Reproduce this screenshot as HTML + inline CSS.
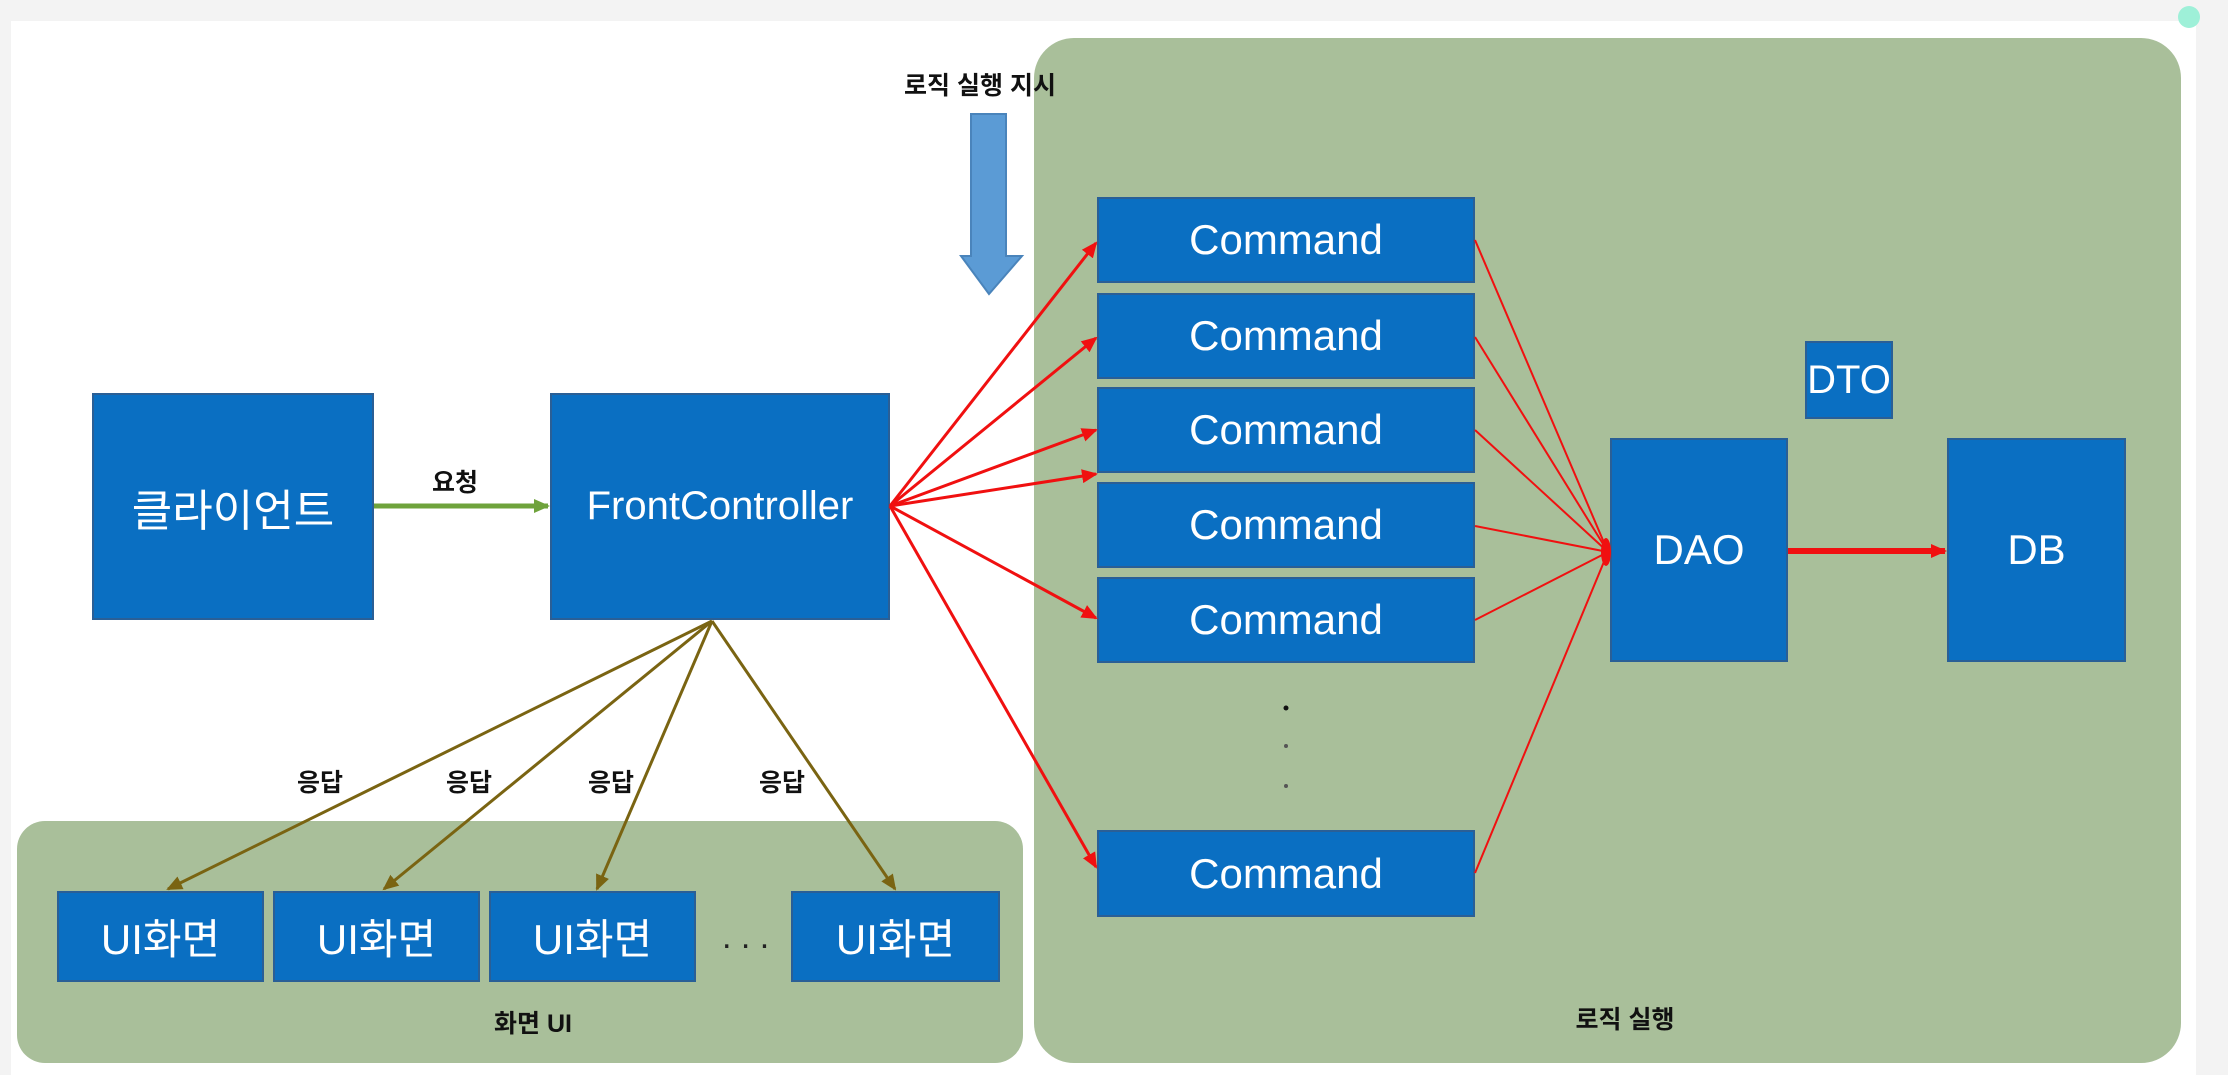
<!DOCTYPE html>
<html><head><meta charset="utf-8"><style>
html,body{margin:0;padding:0}
body{width:2228px;height:1075px;position:relative;background:#f3f3f3;overflow:hidden;font-family:"Liberation Sans","Noto Sans CJK KR",sans-serif}
.w{position:absolute;left:11px;top:21px;width:2185px;height:1054px;background:#fff}
.p{position:absolute;background:#a9bf9a;border-radius:40px}
.b{position:absolute;background:#0a6fc2;color:#fff;display:flex;align-items:center;justify-content:center;font-size:42px;box-shadow:inset 0 0 0 2px #2a5f96}
.l{position:absolute;font-weight:bold;font-size:25px;color:#111;transform:translateX(-50%);white-space:nowrap}
</style></head><body>
<div class="w"></div>
<div style="position:absolute;left:2178px;top:6px;width:22px;height:22px;border-radius:50%;background:#9ef0d8"></div>
<div class="p" style="left:1034px;top:38px;width:1147px;height:1025px"></div>
<div class="p" style="left:17px;top:821px;width:1006px;height:242px;border-radius:28px"></div>

<div class="b" style="left:92px;top:393px;width:282px;height:227px;font-size:44px">클라이언트</div>
<div class="b" style="left:550px;top:393px;width:340px;height:227px;font-size:40px">FrontController</div>

<div class="b" style="left:1097px;top:197px;width:378px;height:86px">Command</div>
<div class="b" style="left:1097px;top:293px;width:378px;height:86px">Command</div>
<div class="b" style="left:1097px;top:387px;width:378px;height:86px">Command</div>
<div class="b" style="left:1097px;top:482px;width:378px;height:86px">Command</div>
<div class="b" style="left:1097px;top:577px;width:378px;height:86px">Command</div>
<div class="b" style="left:1097px;top:830px;width:378px;height:87px">Command</div>

<div class="b" style="left:1805px;top:341px;width:88px;height:78px;font-size:40px">DTO</div>
<div class="b" style="left:1610px;top:438px;width:178px;height:224px;font-size:42px">DAO</div>
<div class="b" style="left:1947px;top:438px;width:179px;height:224px;font-size:42px">DB</div>

<div class="b" style="left:57px;top:891px;width:207px;height:91px;font-size:42px">UI화면</div>
<div class="b" style="left:273px;top:891px;width:207px;height:91px;font-size:42px">UI화면</div>
<div class="b" style="left:489px;top:891px;width:207px;height:91px;font-size:42px">UI화면</div>
<div class="b" style="left:791px;top:891px;width:209px;height:91px;font-size:42px">UI화면</div>
<div style="position:absolute;left:722px;top:918px;font-size:34px;color:#222">. . .</div>

<div class="l" style="left:533px;top:1004px">화면 UI</div>
<div class="l" style="left:1625px;top:1000px">로직 실행</div>
<div class="l" style="left:980px;top:66px">로직 실행 지시</div>
<div class="l" style="left:455px;top:463px">요청</div>
<div class="l" style="left:320px;top:763px">응답</div>
<div class="l" style="left:469px;top:763px">응답</div>
<div class="l" style="left:611px;top:763px">응답</div>
<div class="l" style="left:782px;top:763px">응답</div>

<svg width="2228" height="1075" style="position:absolute;left:0;top:0">
<defs>
<marker id="r" markerWidth="8" markerHeight="8" refX="7" refY="4" orient="auto" markerUnits="userSpaceOnUse" viewBox="0 0 8 8"><path d="M0,0L8,4L0,8z" fill="#f01010"/></marker>
<marker id="rb" markerWidth="16" markerHeight="16" refX="14" refY="8" orient="auto" markerUnits="userSpaceOnUse" viewBox="0 0 16 16"><path d="M0,1L16,8L0,15z" fill="#f01010"/></marker>
<marker id="g" markerWidth="16" markerHeight="16" refX="14" refY="8" orient="auto" markerUnits="userSpaceOnUse" viewBox="0 0 16 16"><path d="M0,1L16,8L0,15z" fill="#6fa33c"/></marker>
<marker id="o" markerWidth="16" markerHeight="16" refX="14" refY="8" orient="auto" markerUnits="userSpaceOnUse" viewBox="0 0 16 16"><path d="M0,1L16,8L0,15z" fill="#7a6412"/></marker>
</defs>
<path d="M971,114H1006V256H1022L989,294L961,256H971Z" fill="#5b9bd5" stroke="#4a84bb" stroke-width="2"/>
<line x1="374" y1="506" x2="548" y2="506" stroke="#6fa33c" stroke-width="5" marker-end="url(#g)"/>
<g stroke="#f01010" stroke-width="3" fill="none">
<line x1="890" y1="506" x2="1096" y2="243" marker-end="url(#rb)"/>
<line x1="890" y1="506" x2="1096" y2="338" marker-end="url(#rb)"/>
<line x1="890" y1="506" x2="1096" y2="430" marker-end="url(#rb)"/>
<line x1="890" y1="506" x2="1096" y2="474" marker-end="url(#rb)"/>
<line x1="890" y1="506" x2="1096" y2="618" marker-end="url(#rb)"/>
<line x1="890" y1="506" x2="1096" y2="867" marker-end="url(#rb)"/>
</g>
<g stroke="#f01010" stroke-width="2">
<line x1="1475" y1="240" x2="1608" y2="552"/>
<line x1="1475" y1="337" x2="1608" y2="552"/>
<line x1="1475" y1="430" x2="1608" y2="552"/>
<line x1="1475" y1="526" x2="1608" y2="552"/>
<line x1="1475" y1="620" x2="1608" y2="552"/>
<line x1="1475" y1="873" x2="1608" y2="552"/>
</g>
<ellipse cx="1606" cy="552" rx="5" ry="14" fill="#f01010"/>
<line x1="1788" y1="551" x2="1945" y2="551" stroke="#f01010" stroke-width="6" marker-end="url(#rb)"/>
<g stroke="#7a6412" stroke-width="3">
<line x1="712" y1="621" x2="168" y2="889" marker-end="url(#o)"/>
<line x1="712" y1="621" x2="384" y2="889" marker-end="url(#o)"/>
<line x1="712" y1="621" x2="597" y2="889" marker-end="url(#o)"/>
<line x1="712" y1="621" x2="895" y2="889" marker-end="url(#o)"/>
</g>
<circle cx="1286" cy="708" r="2.5" fill="#111"/>
<circle cx="1286" cy="746" r="2" fill="#555"/>
<circle cx="1286" cy="786" r="2" fill="#555"/>
</svg>
</body></html>
